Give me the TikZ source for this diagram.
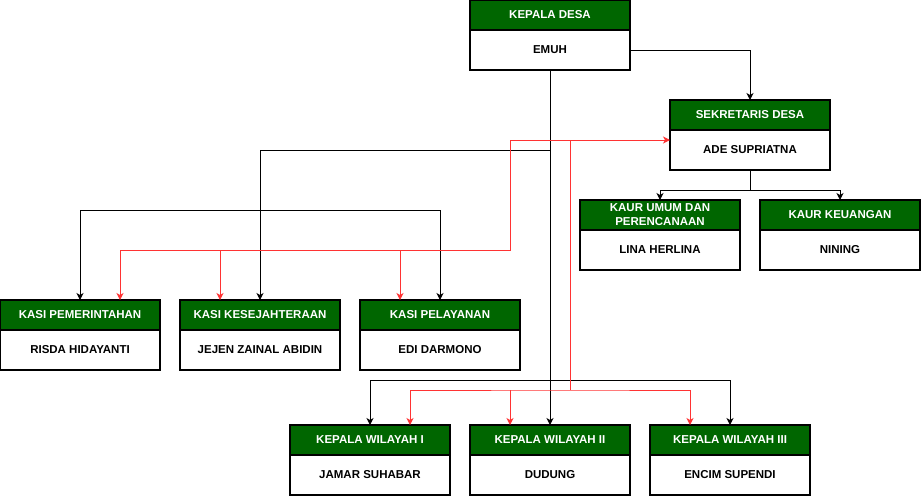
\documentclass[tikz,border=0pt]{standalone}
\usepackage{fontspec}
\setmainfont{Liberation Sans}
\usetikzlibrary{positioning,arrows.meta}
\definecolor{hijau}{HTML}{006600}
\definecolor{merah}{HTML}{FF3333}

\begin{document}
\begin{tikzpicture}[x=1pt,y=-1pt,
  >={Stealth[length=7pt,width=7pt,inset=2pt]},
  title/.style={draw, fill=hijau, text=white,
                minimum width=160pt, minimum height=30pt,
                inner sep=0pt, outer sep=0pt, align=center,
                font=\fontsize{11.5}{14}\selectfont\bfseries},
  person/.style={draw, fill=white, below=0pt of #1,
                 minimum width=160pt, minimum height=40pt,
                 inner sep=0pt, outer sep=0pt,
                 font=\fontsize{11.5}{14}\selectfont\bfseries},
  link/.style={draw, line width=1pt},
  redlink/.style={draw=merah, line width=1pt},
  line width=1.2pt,
  ]
\useasboundingbox (0,0) rectangle (922,496);

% kepala desa dan sekretaris
\node [title] (kd) at (550,15) {KEPALA DESA};
\node [person=kd] (kdn) {EMUH};
\node [title] (sk) at (750,115) {SEKRETARIS DESA};
\node [person=sk] (skn) {ADE SUPRIATNA};

% kaur
\node [title] (ku1) at (660,215) {KAUR UMUM DAN\\PERENCANAAN};
\node [person=ku1] (ku1n) {LINA HERLINA};
\node [title] (ku2) at (840,215) {KAUR KEUANGAN};
\node [person=ku2] (ku2n) {NINING};

% kasi
\node [title] (k1) at (80,315) {KASI PEMERINTAHAN};
\node [person=k1] (k1n) {RISDA HIDAYANTI};
\node [title] (k2) at (260,315) {KASI KESEJAHTERAAN};
\node [person=k2] (k2n) {JEJEN ZAINAL ABIDIN};
\node [title] (k3) at (440,315) {KASI PELAYANAN};
\node [person=k3] (k3n) {EDI DARMONO};

% kepala wilayah
\node [title] (w1) at (370,440) {KEPALA WILAYAH I};
\node [person=w1] (w1n) {JAMAR SUHABAR};
\node [title] (w2) at (550,440) {KEPALA WILAYAH II};
\node [person=w2] (w2n) {DUDUNG};
\node [title] (w3) at (730,440) {KEPALA WILAYAH III};
\node [person=w3] (w3n) {ENCIM SUPENDI};

% garis komando
\draw [link,->] (kdn.east) -| (sk.north);
\draw [link] (skn.south) -- ++(0,20);
\draw [link,<->] (ku1.north) -- ++(0,-10) -| (ku2.north);
\draw [link,->] (kdn.south) -- (w2.north);
\draw [link,->] (kdn.south |- 0,150) -| (k2.north);
\draw [link,<->] (k1.north) -- ++(0,-90) -| (k3.north);
\draw [link,<->] (w1.north) -- ++(0,-45) -| (w3.north);

% garis koordinasi
\coordinate (r1) at (510,250);
\coordinate (r2) at (570,390);
\coordinate (k1r) at ([xshift=40pt]k1.north);
\coordinate (k2r) at ([xshift=-40pt]k2.north);
\coordinate (k3r) at ([xshift=-40pt]k3.north);
\coordinate (w1r) at ([xshift=40pt]w1.north);
\coordinate (w2r) at ([xshift=-40pt]w2.north);
\coordinate (w3r) at ([xshift=-40pt]w3.north);
\draw [redlink,<->] ([yshift=10pt]skn.west) -| (r1) -| (k1r);
\draw [redlink,->] (k2r |- r1) -- (k2r);
\draw [redlink,->] (k3r |- r1) -- (k3r);
\draw [redlink] (r2 |- 0,140) -- (r2);
\draw [redlink,<->] (w1r) |- (r2) -| (w3r);
\draw [redlink,->] (w2r |- r2) -- (w2r);
\end{tikzpicture}
\end{document}
